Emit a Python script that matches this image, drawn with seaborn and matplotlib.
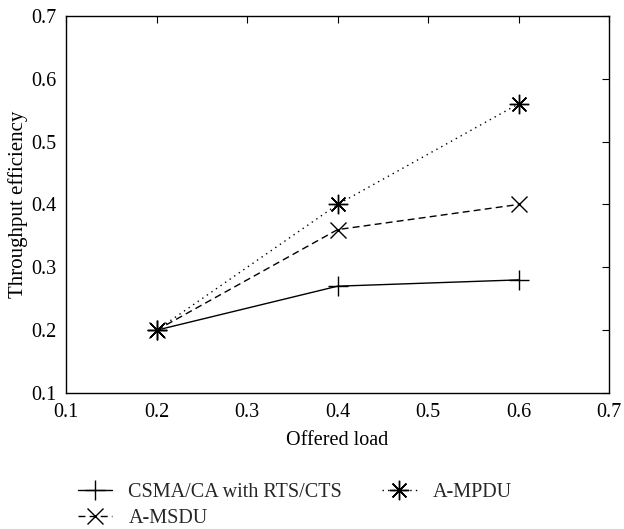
import matplotlib
matplotlib.use("Agg")
import matplotlib.pyplot as plt
import seaborn as sns
import pandas as pd
from matplotlib.lines import Line2D

offered_load = [0.2, 0.4, 0.6]
csma = [0.2, 0.27, 0.28]
amsdu = [0.2, 0.36, 0.4]
ampdu = [0.2, 0.4, 0.56]
series_names = ["CSMA/CA with RTS/CTS", "A-MSDU", "A-MPDU"]

sns.set_theme(style="white")
plt.rcParams["font.family"] = ["Liberation Serif", "DejaVu Serif"]

df = pd.DataFrame({
    "load": offered_load * 3,
    "eff": csma + amsdu + ampdu,
    "series": [series_names[0]] * 3 + [series_names[1]] * 3 + [series_names[2]] * 3,
})

fig = plt.figure(figsize=(6.24, 5.29), dpi=100)
ax = fig.add_axes([0.106, 0.257, 0.870, 0.713])

FS = 14.5
styles = {
    series_names[0]: dict(ls="-", marker="+", ms=14),
    series_names[1]: dict(ls=(0, (5, 3)), marker="x", ms=12),
    series_names[2]: dict(ls=(0, (1, 3)), marker=(8, 2, 0), ms=14),
}
handles = []
for name in series_names:
    st = styles[name]
    sub = df[df["series"] == name]
    sns.lineplot(data=sub, x="load", y="eff", ax=ax, color="black", lw=1.0,
                 linestyle=st["ls"], marker=st["marker"], markersize=st["ms"],
                 markeredgewidth=1.0, markeredgecolor="black", legend=False)
    handles.append(Line2D([], [], color="black", lw=1.0, linestyle=st["ls"],
                          marker=st["marker"], markersize=st["ms"],
                          markeredgewidth=1.0, label=name))

ax.set_xlim(0.1, 0.7)
ax.set_ylim(0.1, 0.7)
ax.set_xticks([0.1, 0.2, 0.3, 0.4, 0.5, 0.6, 0.7])
ax.set_yticks([0.1, 0.2, 0.3, 0.4, 0.5, 0.6, 0.7])
ax.tick_params(direction="in", top=True, right=True, length=5, width=0.8,
               labelsize=FS, colors="black", pad=7)
for s in ax.spines.values():
    s.set_color("black")
    s.set_linewidth(1.0)
ax.set_xlabel("Offered load", fontsize=FS, color="black", labelpad=7)
ax.set_ylabel("Throughput efficiency", fontsize=15, color="black", labelpad=2)

fig.legend(handles=handles, loc="upper left", bbox_to_anchor=(0.125, 0.087),
           ncol=2, frameon=False, fontsize=FS, handlelength=1.7,
           columnspacing=2.0, handletextpad=0.8, labelspacing=0.35,
           borderaxespad=0.0, borderpad=0.0)

fig.savefig("out.png", dpi=100, facecolor="white")
